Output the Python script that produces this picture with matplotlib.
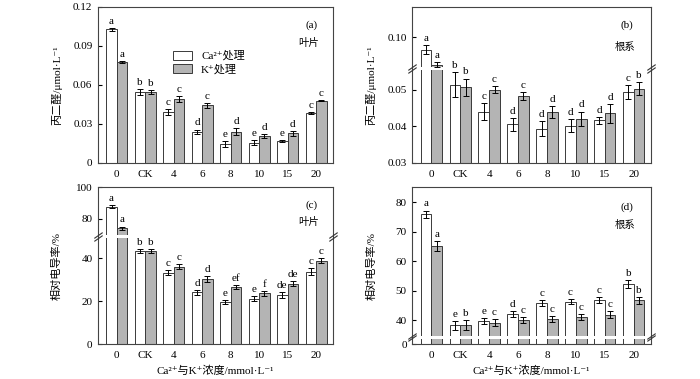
import numpy as np
import matplotlib
matplotlib.use("Agg")
import matplotlib.pyplot as plt
from matplotlib.patches import Rectangle, Patch

plt.rcParams['font.family'] = ['Liberation Serif', 'DejaVu Serif', 'Noto Sans CJK SC']
plt.rcParams['font.size'] = 8

groups = ['0', 'CK', '4', '6', '8', '10', '15', '20']

# (a) leaf MDA
leaf_mda_ca = [0.1026, 0.0548, 0.0392, 0.0241, 0.0146, 0.0156, 0.0169, 0.0382]
leaf_mda_ca_err = [0.0012, 0.0022, 0.0025, 0.0016, 0.0020, 0.0020, 0.0010, 0.0008]
leaf_mda_k = [0.0774, 0.0548, 0.0492, 0.0444, 0.0241, 0.0208, 0.0228, 0.0479]
leaf_mda_k_err = [0.0008, 0.0015, 0.0020, 0.0020, 0.0025, 0.0015, 0.0020, 0.0005]
leaf_mda_ca_sig = ['a', 'b', 'c', 'd', 'e', 'e', 'e', 'c']
leaf_mda_k_sig = ['a', 'b', 'c', 'c', 'd', 'd', 'd', 'c']

# (b) root MDA
root_mda_ca = [0.0959, 0.0513, 0.0440, 0.0405, 0.0393, 0.0402, 0.0416, 0.0492]
root_mda_ca_err = [0.0015, 0.0034, 0.0024, 0.0018, 0.0020, 0.0017, 0.0010, 0.0019]
root_mda_k = [0.0909, 0.0506, 0.0500, 0.0482, 0.0439, 0.0421, 0.0435, 0.0502]
root_mda_k_err = [0.0008, 0.0024, 0.0010, 0.0011, 0.0016, 0.0019, 0.0025, 0.0018]
root_mda_ca_sig = ['a', 'b', 'c', 'd', 'd', 'd', 'd', 'c']
root_mda_k_sig = ['a', 'b', 'c', 'c', 'd', 'd', 'd', 'b']

# (c) leaf relative conductivity
leaf_rc_ca = [87.8, 43.4, 33.3, 24.2, 19.5, 21.2, 22.8, 33.8]
leaf_rc_ca_err = [0.7, 1.0, 1.0, 1.2, 1.0, 1.0, 1.5, 1.7]
leaf_rc_k = [74.2, 43.4, 36.1, 30.4, 26.5, 23.6, 28.2, 38.9]
leaf_rc_k_err = [1.0, 1.0, 1.0, 1.5, 1.0, 1.2, 1.0, 1.3]
leaf_rc_ca_sig = ['a', 'b', 'c', 'd', 'e', 'e', 'de', 'c']
leaf_rc_k_sig = ['a', 'b', 'c', 'd', 'ef', 'f', 'de', 'c']

# (d) root relative conductivity
root_rc_ca = [76.0, 38.4, 39.8, 42.2, 45.9, 46.4, 46.9, 52.4]
root_rc_ca_err = [1.2, 1.5, 1.0, 1.0, 0.9, 0.8, 1.1, 1.4]
root_rc_k = [65.2, 38.4, 39.3, 40.1, 40.5, 41.1, 41.9, 46.8]
root_rc_k_err = [1.8, 1.8, 1.1, 1.1, 1.0, 1.0, 1.2, 1.2]
root_rc_ca_sig = ['a', 'e', 'e', 'd', 'c', 'c', 'c', 'b']
root_rc_k_sig = ['a', 'b', 'c', 'c', 'c', 'c', 'c', 'b']

GRAY = '#b4b4b4'
EDGE = '#3a3a3a'


def piecewise_scale(ax, vals, fracs):
    vals = np.asarray(vals, float)
    fracs = np.asarray(fracs, float)
    s0 = (fracs[1] - fracs[0]) / (vals[1] - vals[0])
    s1 = (fracs[-1] - fracs[-2]) / (vals[-1] - vals[-2])

    def fwd(v):
        v = np.asarray(v, float)
        out = np.interp(v, vals, fracs)
        out = np.where(v < vals[0], fracs[0] + (v - vals[0]) * s0, out)
        return np.where(v > vals[-1], fracs[-1] + (v - vals[-1]) * s1, out)

    def inv(f):
        f = np.asarray(f, float)
        out = np.interp(f, fracs, vals)
        out = np.where(f < fracs[0], vals[0] + (f - fracs[0]) / s0, out)
        return np.where(f > fracs[-1], vals[-1] + (f - fracs[-1]) / s1, out)

    ax.set_yscale('function', functions=(fwd, inv))
    ax.set_ylim(vals[0], vals[-1])


def add_break(ax, f1, f2):
    # white gap through the bars plus // marks on both spines
    ax.add_patch(Rectangle((0, f1), 1, f2 - f1, transform=ax.transAxes,
                           facecolor='white', edgecolor='none', zorder=2.3))
    for x in (0, 1):
        ax.plot([x, x], [f1 + 0.002, f2 - 0.002], transform=ax.transAxes, linestyle='none',
                marker=[(-1, -0.7), (1, 0.7)], markersize=6, mew=0.8,
                color='#333333', clip_on=False, zorder=5)


def draw_panel(ax, ca, ca_err, k, k_err, ca_sig, k_sig, bottom):
    x = np.arange(len(groups))
    w = 0.37
    ax.bar(x - w / 2, np.array(ca) - bottom, w, bottom=bottom, color='white',
           edgecolor=EDGE, linewidth=0.7, zorder=2)
    ax.bar(x + w / 2, np.array(k) - bottom, w, bottom=bottom, color=GRAY,
           edgecolor=EDGE, linewidth=0.7, zorder=2)
    ax.errorbar(x - w / 2, ca, yerr=ca_err, fmt='none', ecolor='black',
                elinewidth=0.7, capsize=2, capthick=0.7, zorder=3)
    ax.errorbar(x + w / 2, k, yerr=k_err, fmt='none', ecolor='black',
                elinewidth=0.7, capsize=2, capthick=0.7, zorder=3)
    for i in range(len(groups)):
        ax.annotate(ca_sig[i], (x[i] - w / 2, ca[i] + ca_err[i]), xytext=(0, 1.5),
                    textcoords='offset points', ha='center', va='bottom', fontsize=8)
        ax.annotate(k_sig[i], (x[i] + w / 2, k[i] + k_err[i]), xytext=(0, 1.5),
                    textcoords='offset points', ha='center', va='bottom', fontsize=8)
    ax.set_xlim(-0.66, 7.6)
    ax.set_xticks(x)
    ax.set_xticklabels(groups)
    ax.tick_params(axis='x', length=0, pad=5, labelsize=8)
    ax.tick_params(axis='y', direction='in', length=3, labelsize=8, pad=4)
    for s in ax.spines.values():
        s.set_color('#444444')
        s.set_linewidth(0.8)


fig = plt.figure(figsize=(7, 3.79), dpi=100)
ax_a = fig.add_axes([0.140, 0.570, 0.336, 0.412])
ax_b = fig.add_axes([0.589, 0.570, 0.341, 0.412])
ax_c = fig.add_axes([0.140, 0.092, 0.336, 0.414])
ax_d = fig.add_axes([0.589, 0.092, 0.341, 0.414])

mda_label = '丙二醛/μmol·L⁻¹'
rc_label = '相对电导率/%'
x_label = 'Ca²⁺与K⁺浓度/mmol·L⁻¹'

# (a)
draw_panel(ax_a, leaf_mda_ca, leaf_mda_ca_err, leaf_mda_k, leaf_mda_k_err,
           leaf_mda_ca_sig, leaf_mda_k_sig, 0)
ax_a.set_ylim(0, 0.12)
ax_a.set_yticks([0, 0.03, 0.06, 0.09, 0.12])
ax_a.set_yticklabels(['0', '0.03', '0.06', '0.09', '0.12'])
ax_a.set_ylabel(mda_label, fontsize=8, labelpad=8)
ax_a.text(0.91, 0.885, '(a)', transform=ax_a.transAxes, ha='center', va='center', fontsize=8)
ax_a.text(0.895, 0.77, '叶片', transform=ax_a.transAxes, ha='center', va='center', fontsize=7.5)
handles = [Patch(facecolor='white', edgecolor=EDGE, linewidth=0.7),
           Patch(facecolor=GRAY, edgecolor=EDGE, linewidth=0.7)]
ax_a.legend(handles, ['Ca²⁺处理', 'K⁺处理'], loc='upper left',
            bbox_to_anchor=(0.32, 0.72), frameon=False, fontsize=8,
            handlelength=1.7, handleheight=0.9, labelspacing=0.25,
            borderpad=0, borderaxespad=0, handletextpad=0.8)

# (b)
piecewise_scale(ax_b, [0.03, 0.0553, 0.0902, 0.11], [0, 0.595, 0.615, 1.0])
draw_panel(ax_b, root_mda_ca, root_mda_ca_err, root_mda_k, root_mda_k_err,
           root_mda_ca_sig, root_mda_k_sig, 0.03)
ax_b.set_yticks([0.03, 0.04, 0.05, 0.10])
ax_b.set_yticklabels(['0.03', '0.04', '0.05', '0.10'])
add_break(ax_b, 0.595, 0.615)
ax_b.set_ylabel(mda_label, fontsize=8, labelpad=8)
ax_b.text(0.90, 0.885, '(b)', transform=ax_b.transAxes, ha='center', va='center', fontsize=8)
ax_b.text(0.89, 0.745, '根系', transform=ax_b.transAxes, ha='center', va='center', fontsize=7.5)

# (c)
piecewise_scale(ax_c, [0, 49.4, 69.9, 100], [0, 0.676, 0.696, 1.0])
draw_panel(ax_c, leaf_rc_ca, leaf_rc_ca_err, leaf_rc_k, leaf_rc_k_err,
           leaf_rc_ca_sig, leaf_rc_k_sig, 0)
ax_c.set_yticks([0, 20, 40, 80, 100])
ax_c.set_yticklabels(['0', '20', '40', '80', '100'])
add_break(ax_c, 0.676, 0.696)
ax_c.set_ylabel(rc_label, fontsize=8, labelpad=10)
ax_c.set_xlabel(x_label, fontsize=8, labelpad=4)
ax_c.text(0.91, 0.885, '(c)', transform=ax_c.transAxes, ha='center', va='center', fontsize=8)
ax_c.text(0.895, 0.777, '叶片', transform=ax_c.transAxes, ha='center', va='center', fontsize=7.5)

# (d)
piecewise_scale(ax_d, [0, 2, 34.9, 85.1], [0, 0.035, 0.055, 1.0])
draw_panel(ax_d, root_rc_ca, root_rc_ca_err, root_rc_k, root_rc_k_err,
           root_rc_ca_sig, root_rc_k_sig, 0)
ax_d.set_yticks([0, 40, 50, 60, 70, 80])
ax_d.set_yticklabels(['0', '40', '50', '60', '70', '80'])
add_break(ax_d, 0.035, 0.055)
ax_d.set_ylabel(rc_label, fontsize=8, labelpad=14)
ax_d.set_xlabel(x_label, fontsize=8, labelpad=4)
ax_d.text(0.90, 0.87, '(d)', transform=ax_d.transAxes, ha='center', va='center', fontsize=8)
ax_d.text(0.89, 0.76, '根系', transform=ax_d.transAxes, ha='center', va='center', fontsize=7.5)

fig.savefig('out.png', dpi=100)
